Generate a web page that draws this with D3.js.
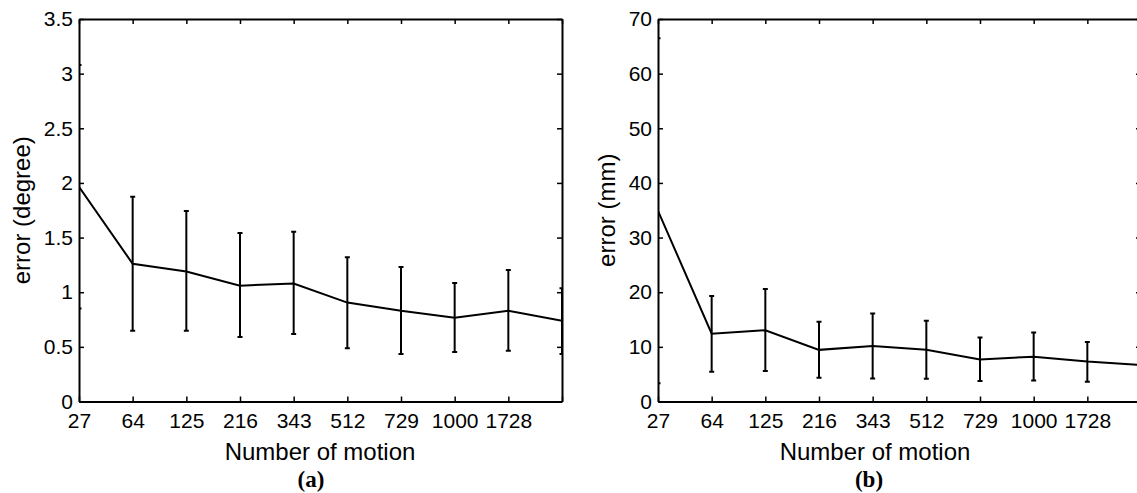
<!DOCTYPE html>
<html>
<head>
<meta charset="utf-8">
<script src="https://cdn.jsdelivr.net/npm/d3@7"></script>
<style>
  html, body { margin: 0; padding: 0; background: #fff; }
  svg { display: block; }
  text { font-family: "Liberation Sans", Arial, sans-serif; fill: #000; }
</style>
</head>
<body>
<svg id="chart" width="1137" height="493"></svg>
<script>
// ---- data ----
const categories = ["27", "64", "125", "216", "343", "512", "729", "1000", "1728", "2744"];
const tickLabels = ["27", "64", "125", "216", "343", "512", "729", "1000", "1728", ""];

const degMean  = [1.965, 1.26, 1.19, 1.06, 1.08, 0.905, 0.83, 0.767, 0.83, 0.739];
const degLower = [0.85, 0.648, 0.648, 0.59, 0.618, 0.487, 0.435, 0.453, 0.465, 0.435];
const degUpper = [3.08, 1.874, 1.743, 1.542, 1.554, 1.319, 1.231, 1.084, 1.203, 1.036];

const mmMean  = [34.9, 12.4, 13.05, 9.45, 10.15, 9.45, 7.7, 8.2, 7.3, 6.7];
const mmLower = [3.35, 5.45, 5.6, 4.35, 4.2, 4.15, 3.75, 3.85, 3.6, 3.6];
const mmUpper = [66.5, 19.3, 20.6, 14.6, 16.1, 14.8, 11.7, 12.65, 10.9, 9.8];

const degTicks = [0, 0.5, 1, 1.5, 2, 2.5, 3, 3.5];
const mmTicks  = [0, 10, 20, 30, 40, 50, 60, 70];

const panels = [
  { left: 79,  yMax: 3.5, yTicks: degTicks, mean: degMean, lower: degLower, upper: degUpper,
    yTitle: "error (degree)", yTitleX: 30, xTitleX: 320, tag: "(a)", tagX: 311 },
  { left: 658, yMax: 70,  yTicks: mmTicks,  mean: mmMean,  lower: mmLower,  upper: mmUpper,
    yTitle: "error (mm)", yTitleX: 615, xTitleX: 875, tag: "(b)", tagX: 869 }
];

// ---- layout ----
const plotTop = 19, plotBottom = 401.5, plotW = 483;
const svg = d3.select("#chart");

panels.forEach(p => {
  const x = d3.scaleLinear().domain([0, categories.length - 1]).range([p.left, p.left + plotW]);
  const y = d3.scaleLinear().domain([0, p.yMax]).range([plotBottom, plotTop]);
  const idx = d3.range(categories.length);
  const g = svg.append("g");

  const fmt = d => String(d);
  const bottomAx = g.append("g").attr("transform", `translate(0,${plotBottom})`)
    .call(d3.axisBottom(x).tickValues(idx).tickFormat(i => tickLabels[i])
      .tickSizeInner(-5).tickSizeOuter(0).tickPadding(12));
  const topAx = g.append("g").attr("transform", `translate(0,${plotTop})`)
    .call(d3.axisTop(x).tickValues(idx).tickFormat("").tickSizeInner(-5).tickSizeOuter(0));
  const leftAx = g.append("g").attr("transform", `translate(${p.left},0)`)
    .call(d3.axisLeft(y).tickValues(p.yTicks).tickFormat(fmt)
      .tickSizeInner(-5).tickSizeOuter(0).tickPadding(6));
  const rightAx = g.append("g").attr("transform", `translate(${p.left + plotW},0)`)
    .call(d3.axisRight(y).tickValues(p.yTicks).tickFormat("").tickSizeInner(-5).tickSizeOuter(0));

  [bottomAx, topAx, leftAx, rightAx].forEach(a => {
    a.select(".domain").attr("stroke", "#000").attr("stroke-width", 2);
    a.selectAll(".tick line").attr("stroke", "#000").attr("stroke-width", 1.5);
    a.selectAll("text").attr("font-size", 21).attr("font-family", "Liberation Sans, Arial, sans-serif").attr("fill", "#000");
  });
  leftAx.selectAll(".tick text").attr("dy", "0.32em");

  const clipId = "clip" + p.left;
  svg.append("clipPath").attr("id", clipId).append("rect")
    .attr("x", p.left).attr("y", plotTop - 1).attr("width", plotW).attr("height", plotBottom - plotTop + 2);
  const data = g.append("g").attr("clip-path", `url(#${clipId})`);

  const capW = 2.5;
  const eb = data.selectAll("g.eb").data(idx).join("g").attr("class", "eb");
  eb.append("line")
    .attr("x1", i => x(i)).attr("x2", i => x(i))
    .attr("y1", i => y(p.lower[i])).attr("y2", i => y(p.upper[i]))
    .attr("stroke", "#000").attr("stroke-width", 2);
  eb.append("line")
    .attr("x1", i => x(i) - capW).attr("x2", i => x(i) + capW)
    .attr("y1", i => y(p.lower[i])).attr("y2", i => y(p.lower[i]))
    .attr("stroke", "#000").attr("stroke-width", 2);
  eb.append("line")
    .attr("x1", i => x(i) - capW).attr("x2", i => x(i) + capW)
    .attr("y1", i => y(p.upper[i])).attr("y2", i => y(p.upper[i]))
    .attr("stroke", "#000").attr("stroke-width", 2);

  data.append("path").datum(idx)
    .attr("fill", "none").attr("stroke", "#000").attr("stroke-width", 2)
    .attr("d", d3.line().x(i => x(i)).y(i => y(p.mean[i])));

  g.append("text").attr("x", p.xTitleX).attr("y", 460).attr("text-anchor", "middle")
    .attr("font-size", 24).text("Number of motion");
  g.append("text").attr("transform", `translate(${p.yTitleX},${(plotTop + plotBottom) / 2}) rotate(-90)`)
    .attr("text-anchor", "middle").attr("font-size", 24).text(p.yTitle);
  g.append("text").attr("x", p.tagX).attr("y", 487).attr("text-anchor", "middle")
    .attr("font-size", 23).attr("font-weight", "bold")
    .style("font-family", "'Liberation Serif', 'Times New Roman', serif").text(p.tag);
});
</script>
</body>
</html>
